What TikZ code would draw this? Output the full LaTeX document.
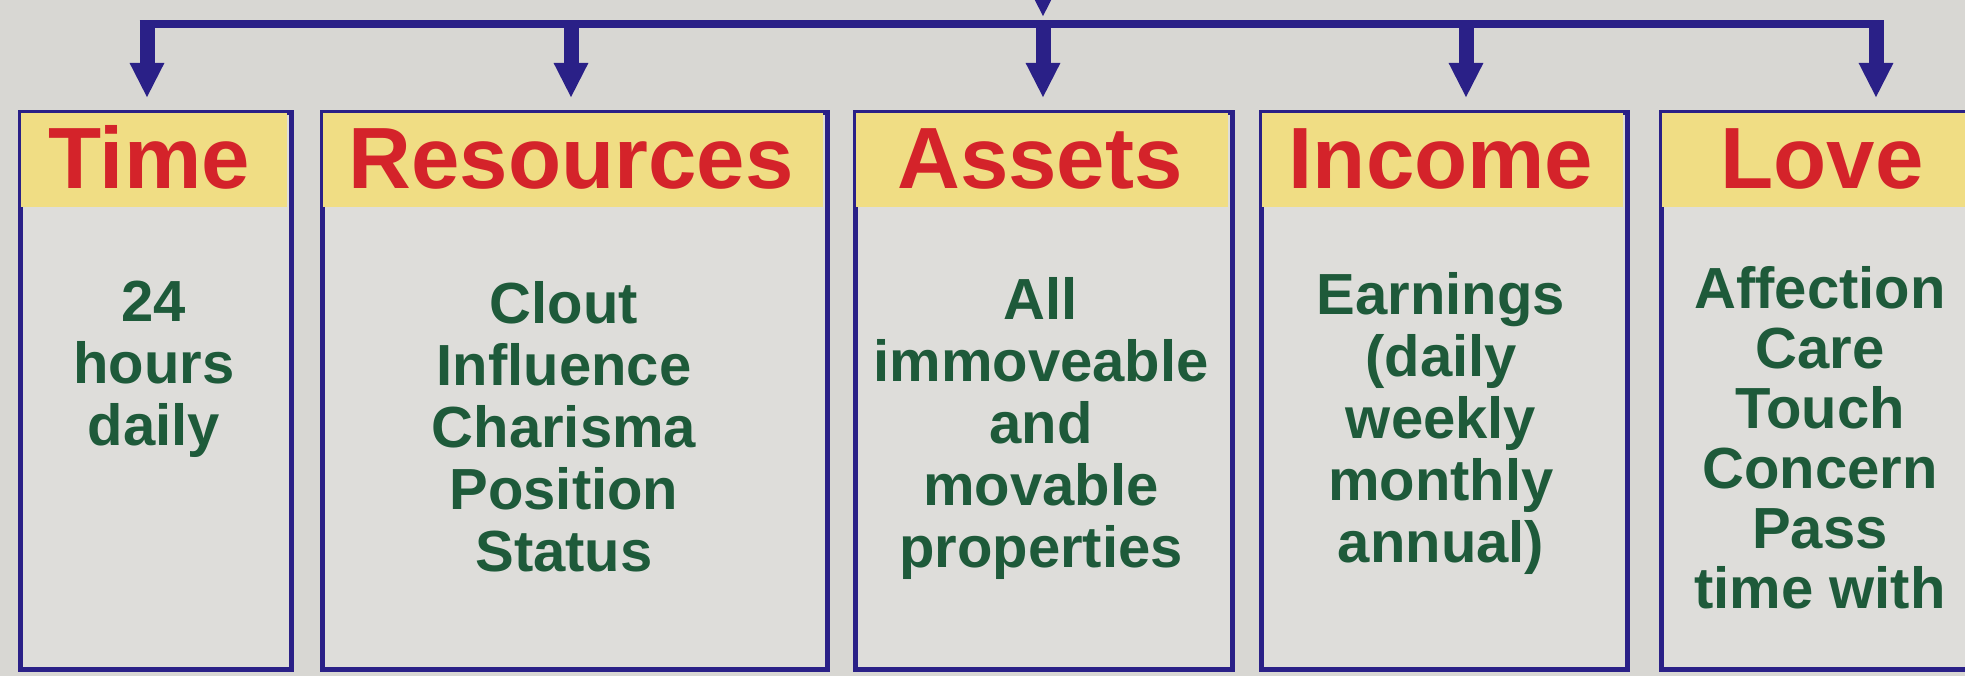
\documentclass[tikz,border=0pt]{standalone}
\usepackage{fontspec}
\setmainfont{Liberation Sans}
\usetikzlibrary{arrows.meta}
\definecolor{paper}{RGB}{216,215,211}
\definecolor{boxbg}{RGB}{222,221,218}
\definecolor{navy}{RGB}{42,32,135}
\definecolor{hdr}{RGB}{240,221,132}
\definecolor{redt}{RGB}{212,35,42}
\definecolor{greent}{RGB}{30,90,58}
\begin{document}
\begin{tikzpicture}[x=1pt,y=-1pt,
  panel/.style={draw=navy, line width=5pt, fill=boxbg, inner sep=0pt, anchor=north west, minimum height=557pt},
  headband/.style={fill=hdr, inner sep=0pt, anchor=north west, minimum height=94pt},
  headtxt/.style={text=redt, font=\bfseries\fontsize{87}{87}\selectfont, anchor=base, inner sep=0pt},
  bodytxt/.style={text=greent, font=\bfseries\fontsize{58}{62}\selectfont, align=center, anchor=north, inner sep=0pt},
  bus/.style={draw=navy, line width=8pt},
  drop/.style={draw=navy, line width=15pt, -{Triangle[width=32pt,length=35pt]}},
]
\useasboundingbox (0,0) rectangle (1965,676);
\clip (0,0) rectangle (1965,676);
\fill[paper] (0,0) rectangle (1965,676);

% panels
\node[panel, minimum width=271pt] (time) at (18,110) {};
\node[panel, minimum width=505pt] (res) at (320,110) {};
\node[panel, minimum width=377pt] (assets) at (853,110) {};
\node[panel, minimum width=366pt] (income) at (1259,110) {};
\node[panel, minimum width=316pt] (love) at (1659,110) {};

% header bands
\node[headband, minimum width=266pt] (timeH) at (20.5,112.5) {};
\node[headband, minimum width=500pt] (resH) at (322.5,112.5) {};
\node[headband, minimum width=372pt] (assetsH) at (855.5,112.5) {};
\node[headband, minimum width=361pt] (incomeH) at (1261.5,112.5) {};
\node[headband, minimum width=311pt] (loveH) at (1661.5,112.5) {};

% header texts
\node[headtxt] (timeT) at (149,189) {Time};
\node[headtxt] (resT) at (571,189) {Resources};
\node[headtxt] (assetsT) at (1040,189) {Assets};
\node[headtxt] (incomeT) at (1441,189) {Income};
\node[headtxt] (loveT) at (1822,189) {Love};

% body texts
\node[bodytxt] (timeB) at (154,281) {24\\hours\\daily};
\node[bodytxt] (resB) at (564,281) {Clout\\Influence\\Charisma\\Position\\Status};
\node[bodytxt] (assetsB) at (1041,277) {All\\immoveable\\and\\movable\\properties};
\node[bodytxt] (incomeB) at (1441,272) {Earnings\\(daily\\weekly\\monthly\\annual)};
\node[bodytxt, font=\bfseries\fontsize{58}{60}\selectfont] (loveB) at (1820,266) {Affection\\Care\\Touch\\Concern\\Pass\\time with};

% connectors
\coordinate (j1) at (147,24);
\coordinate (j2) at (571,24);
\coordinate (j3) at (1043,24);
\coordinate (j4) at (1466,24);
\coordinate (j5) at (1876,24);
\coordinate (src) at (1043,-40);
\draw[bus] ([xshift=-7.5pt]j1) -- ([xshift=7.5pt]j5);
\draw[drop, shorten >=7pt] (src) -- (j3);
\draw[drop, shorten >=12pt] (j1) -- (j1 |- time.north);
\draw[drop, shorten >=12pt] (j2) -- (j2 |- res.north);
\draw[drop, shorten >=12pt] (j3) -- (j3 |- assets.north);
\draw[drop, shorten >=12pt] (j4) -- (j4 |- income.north);
\draw[drop, shorten >=12pt] (j5) -- (j5 |- love.north);
\end{tikzpicture}
\end{document}
